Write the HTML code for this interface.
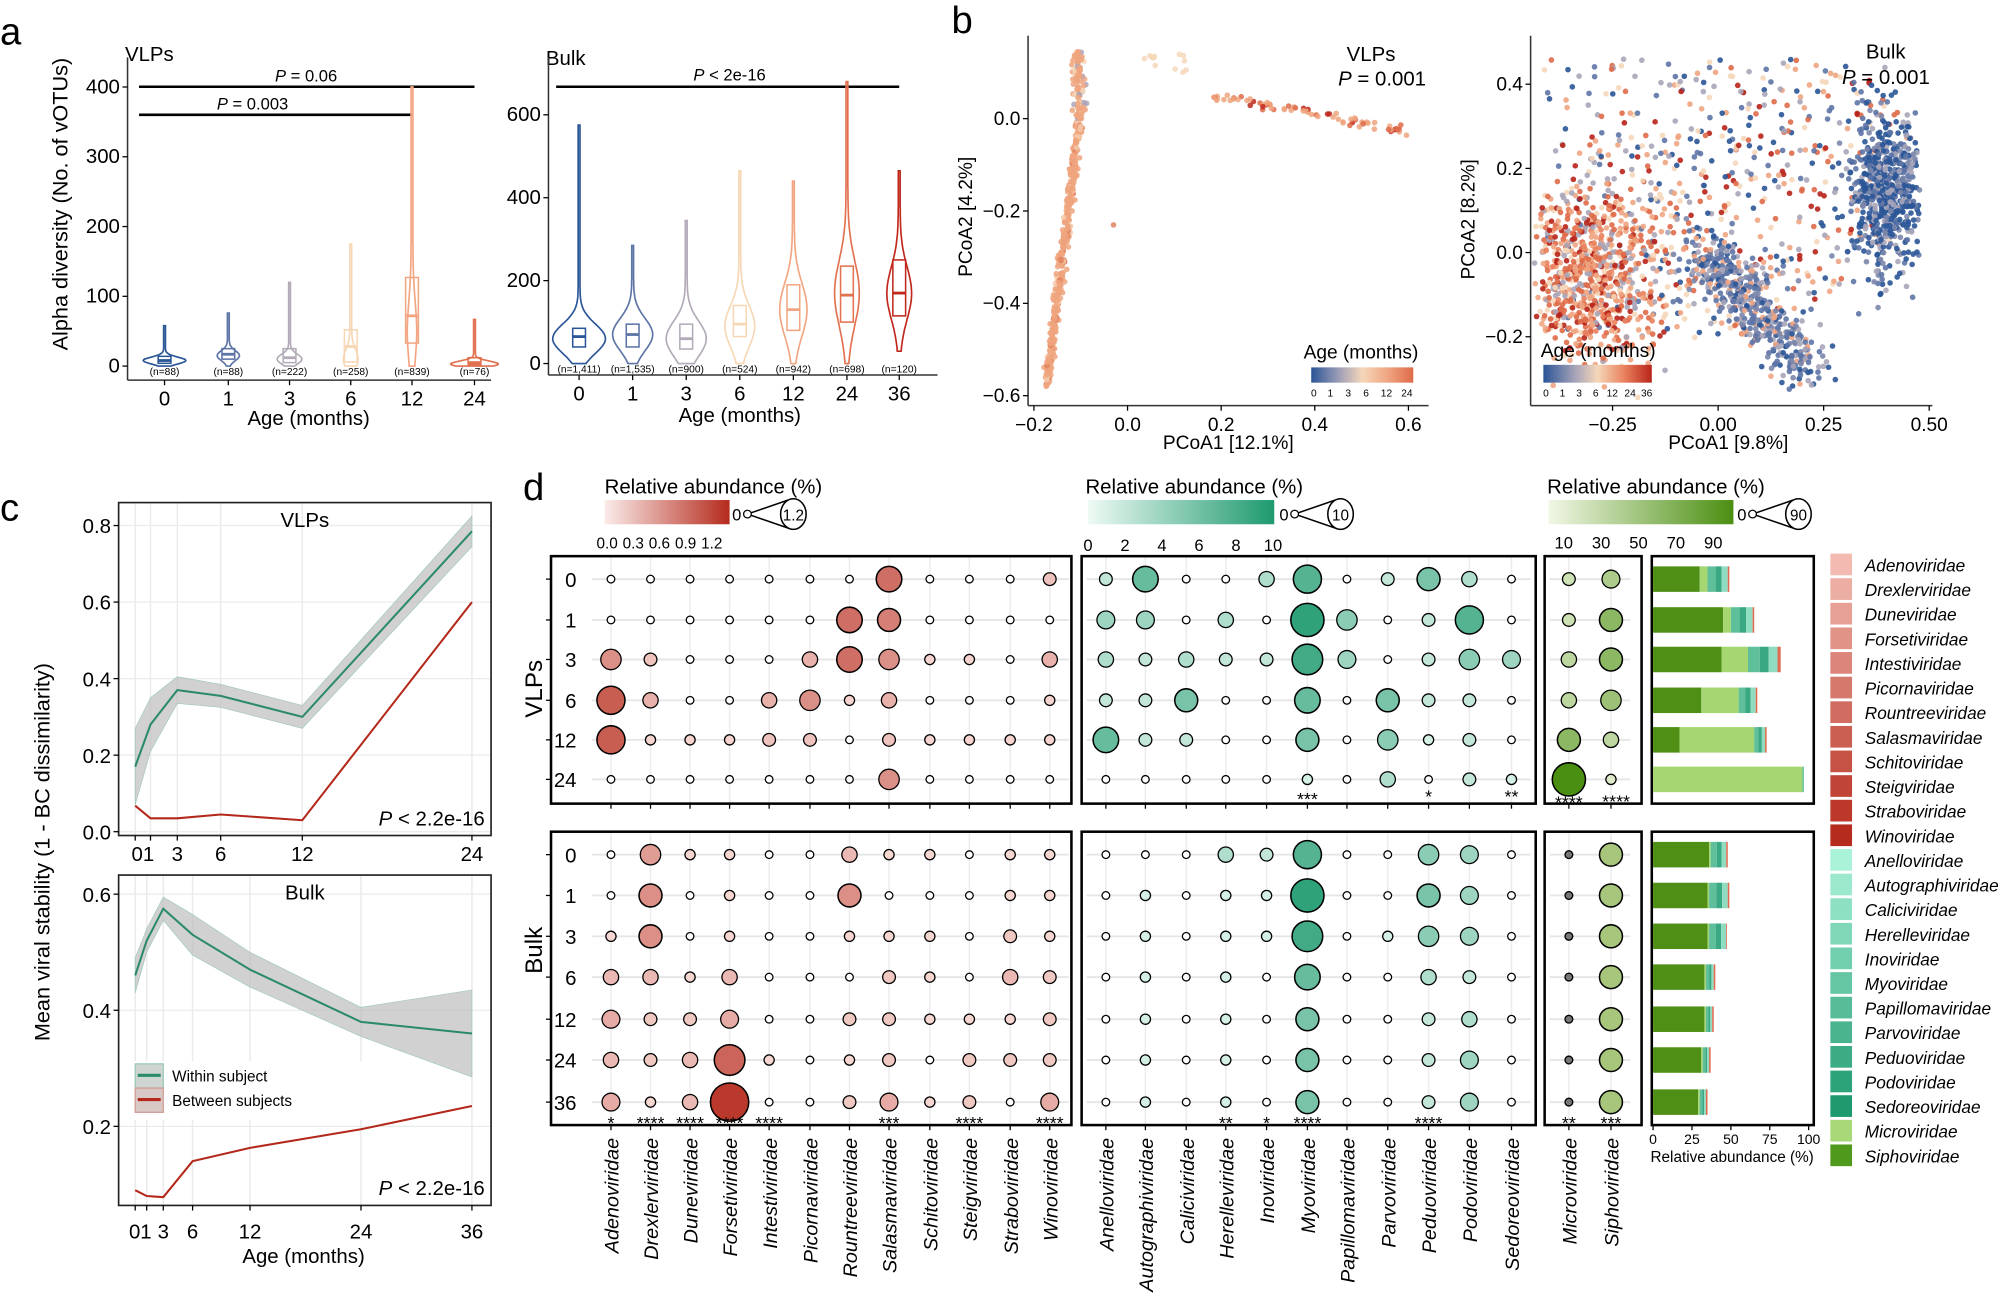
<!DOCTYPE html>
<html><head><meta charset="utf-8"><style>
html,body{margin:0;padding:0;background:#fff}
svg{display:block;font-family:"Liberation Sans",Arial,sans-serif}
</style></head><body>
<svg id="s" xmlns="http://www.w3.org/2000/svg" width="2000" height="1308" viewBox="0 0 1568 1025.4" preserveAspectRatio="none">
<rect width="1568" height="1026" fill="#fff"/>
<defs>
<linearGradient id="gr" x1="0" x2="1"><stop offset="0" stop-color="#fbecea"/><stop offset="1" stop-color="#b52b1d"/></linearGradient>
<linearGradient id="gg" x1="0" x2="1"><stop offset="0" stop-color="#eefaf4"/><stop offset="1" stop-color="#1e9a6e"/></linearGradient>
<linearGradient id="gl" x1="0" x2="1"><stop offset="0" stop-color="#f2f7e6"/><stop offset="1" stop-color="#4b8f12"/></linearGradient>
<linearGradient id="ga" x1="0" x2="1"><stop offset="0" stop-color="#2a5597"/><stop offset="0.3" stop-color="#a9a5b9"/><stop offset="0.5" stop-color="#f5d7b9"/><stop offset="0.75" stop-color="#f0a582"/><stop offset="1" stop-color="#de6a48"/></linearGradient>
<linearGradient id="gb" x1="0" x2="1"><stop offset="0" stop-color="#2a5597"/><stop offset="0.3" stop-color="#a9a5b9"/><stop offset="0.5" stop-color="#f5d7b9"/><stop offset="0.75" stop-color="#e9805c"/><stop offset="1" stop-color="#b8241a"/></linearGradient>
</defs>
</svg>
<script>
const NS='http://www.w3.org/2000/svg';const svg=document.getElementById('s');
function el(t,a,p){const e=document.createElementNS(NS,t);for(const k in a)e.setAttribute(k,a[k]);(p||svg).appendChild(e);return e;}
function tx(x,y,s,a){const e=el('text',Object.assign({x:x,y:y,'font-size':14,fill:'#000'},a||{}));e.textContent=s;return e;}
function ln(x1,y1,x2,y2,st,w){return el('line',{x1:x1,y1:y1,x2:x2,y2:y2,stroke:st||'#000','stroke-width':w||1});}
let seed=7;function rnd(){seed=(seed*16807)%2147483647;return seed/2147483647;}
function gauss(){let u=rnd()||1e-9,v=rnd();return Math.sqrt(-2*Math.log(u))*Math.cos(2*Math.PI*v);}
const pal=['#2a5597','#5d74a6','#a9a5b9','#f5d7b9','#f0a582','#de6a48','#b8241a'];

tx(0,35,'a',{'font-size':30});tx(746,26,'b',{'font-size':30});tx(0,408,'c',{'font-size':30});tx(410,392,'d',{'font-size':30});

// ===== Panel a VLPs
tx(98,48,'VLPs',{'font-size':16});
ln(100,45,100,298,'#333',1.2);ln(100,298,385,298,'#333',1.2);
let yv=v=>287-v*0.547;
[0,100,200,300,400].forEach(v=>{ln(96,yv(v),100,yv(v));tx(94,yv(v)+5,v,{'text-anchor':'end','font-size':16});});
const xa=[129,179,227,275,323,372],la=['0','1','3','6','12','24'];
xa.forEach((x,i)=>{ln(x,298,x,302);tx(x,318,la[i],{'text-anchor':'middle','font-size':16});});
tx(242,333,'Age (months)',{'text-anchor':'middle','font-size':16});
tx(0,0,'Alpha diversity (No. of vOTUs)',{'text-anchor':'middle','font-size':17,transform:'translate(53,160) rotate(-90)'});
ln(109,68,372,68,'#000',2);ln(109,90,323,90,'#000',2);
tx(240,64,'',{'text-anchor':'middle','font-size':13}).innerHTML='<tspan font-style="italic">P</tspan> = 0.06';
tx(198,86,'',{'text-anchor':'middle','font-size':13}).innerHTML='<tspan font-style="italic">P</tspan> = 0.003';
function violin(cx,ym,mn,mx,m,W,s,col,q1,md,q3){let L=[],R=[];for(let i=0;i<=80;i++){const v=mn+(mx-mn)*i/80;const w=0.7+W*Math.exp(-Math.pow((v-m)/s,2));L.push((cx-w).toFixed(1)+','+ym(v).toFixed(1));R.push((cx+w).toFixed(1)+','+ym(v).toFixed(1));}
el('path',{d:'M'+L.join('L')+'L'+R.reverse().join('L')+'Z',fill:'none',stroke:col,'stroke-width':1.3});
el('rect',{x:cx-5,y:ym(q3),width:10,height:ym(q1)-ym(q3),fill:'none',stroke:col,'stroke-width':1.2});ln(cx-5,ym(md),cx+5,ym(md),col,2.2);}
const vc=['#2a5597','#5d74a6','#b3aab8','#f7d7b5','#f2a582','#e2714f'];
const vd=[[0,58,8,16,7,4,8,14],[0,76,15,8,10,10,17,25],[0,120,10,9,10,5,12,25],[0,175,10,5,20,6,28,52],[0,400,50,3,60,33,72,127],[0,67,3,18,6,2,5,12]];
vd.forEach((d,i)=>violin(xa[i],yv,d[0],d[1],d[2],d[3],d[4],vc[i],d[5],d[6],d[7]));
['(n=88)','(n=88)','(n=222)','(n=258)','(n=839)','(n=76)'].forEach((s,i)=>tx(xa[i],294,s,{'text-anchor':'middle','font-size':8}));

// ===== Panel a Bulk
tx(428,51,'Bulk',{'font-size':16});
ln(430,45,430,294,'#333',1.2);ln(430,294,735,294,'#333',1.2);
let yb=v=>285-v*0.325;
[0,200,400,600].forEach(v=>{ln(426,yb(v),430,yb(v));tx(424,yb(v)+5,v,{'text-anchor':'end','font-size':16});});
const xb=[454,496,538,580,622,664,705],lb=['0','1','3','6','12','24','36'];
xb.forEach((x,i)=>{ln(x,294,x,298);tx(x,314,lb[i],{'text-anchor':'middle','font-size':16});});
tx(580,331,'Age (months)',{'text-anchor':'middle','font-size':16});
ln(436,68,705,68,'#000',2);tx(572,63,'',{'text-anchor':'middle','font-size':13}).innerHTML='<tspan font-style="italic">P</tspan> &lt; 2e-16';
const bc=['#2a5597','#5d74a6','#b3aab8','#f7d7b5','#f2a582','#e2714f','#c0281c'];
const bd=[[0,575,60,20,50,40,65,85],[0,285,70,15,55,40,70,95],[0,345,60,15,60,35,60,95],[0,465,90,11,70,65,95,140],[0,440,130,10,90,80,130,190],[0,680,170,9,110,100,165,235],[30,465,170,9,90,115,170,250]];
bd.forEach((d,i)=>violin(xb[i],yb,d[0],d[1],d[2],d[3],d[4],bc[i],d[5],d[6],d[7]));
['(n=1,411)','(n=1,535)','(n=900)','(n=524)','(n=942)','(n=698)','(n=120)'].forEach((s,i)=>tx(xb[i],292,s,{'text-anchor':'middle','font-size':8}));

// ===== Panel b VLPs PCoA
{const gx=v=>884+v*367,gy=v=>93-v*362;const G=el('g',{});
function pt(x,y,c){if(x<808||x>1120||y<28||y>316)return;el('circle',{cx:x.toFixed(1),cy:y.toFixed(1),r:2.2,fill:c,'fill-opacity':0.85},G);}
for(let i=0;i<420;i++){const t=rnd();const c=rnd()<0.85?'#eea47e':(rnd()<0.5?'#f5c9a8':'#e2835f');pt(gx(-0.172+t*0.07+gauss()*0.004),gy(-0.575+t*0.58+gauss()*0.008),c);}
for(let i=0;i<90;i++){const c=rnd()<0.7?'#eea47e':(rnd()<0.5?'#f5d7b9':'#a9a5b9');pt(gx(-0.105+gauss()*0.006),gy(0.0+rnd()*0.15),c);}
for(let i=0;i<70;i++){const t=rnd();const r=rnd();const c=r<0.5?'#eea47e':(r<0.8?'#de6a48':'#c0281c');pt(gx(0.18+t*0.43),gy(0.05-t*0.08+gauss()*0.005),c);}
for(let i=0;i<12;i++){pt(gx(0.03+rnd()*0.1),gy(0.1+rnd()*0.04),'#f5d7b9');}
pt(gx(-0.03),gy(-0.23),'#e2835f');
ln(806,28,806,318,'#333',1.2);ln(806,318,1120,318,'#333',1.2);
[[-0.2,'−0.2'],[0,'0.0'],[0.2,'0.2'],[0.4,'0.4'],[0.6,'0.6']].forEach(a=>{ln(gx(a[0]),318,gx(a[0]),322);tx(gx(a[0]),338,a[1],{'text-anchor':'middle','font-size':15});});
[[0,'0.0'],[-0.2,'−0.2'],[-0.4,'−0.4'],[-0.6,'−0.6']].forEach(a=>{ln(802,gy(a[0]),806,gy(a[0]));tx(800,gy(a[0])+5,a[1],{'text-anchor':'end','font-size':15});});
tx(963,352,'PCoA1 [12.1%]',{'text-anchor':'middle','font-size':15});
tx(0,0,'PCoA2 [4.2%]',{'text-anchor':'middle','font-size':15,transform:'translate(762,170) rotate(-90)'});
tx(1094,48,'VLPs',{'text-anchor':'end','font-size':16});
const p=tx(1118,67,'',{'text-anchor':'end','font-size':16});p.innerHTML='<tspan font-style="italic">P</tspan> = 0.001';
tx(1022,281,'Age (months)',{'font-size':15});
el('rect',{x:1028,y:288,width:80,height:12,fill:'url(#ga)'});
[['0',1030],['1',1043],['3',1057],['6',1071],['12',1087],['24',1103]].forEach(a=>tx(a[1],311,a[0],{'text-anchor':'middle','font-size':8}));}

// ===== Panel b Bulk PCoA
{const gx=v=>1347+v*331,gy=v=>198-v*330;const G=el('g',{});
function pt(x,y,c){if(x<1203||x>1505||y<34||y>312)return;el('circle',{cx:x.toFixed(1),cy:y.toFixed(1),r:2.2,fill:c,'fill-opacity':0.9},G);}
function pick(a){return a[Math.floor(rnd()*a.length)];}
for(let i=0;i<1500;i++){const x=-0.42+rnd()*0.87,y=-0.25+rnd()*0.72;if(y>0.46-Math.max(0,x-0.3)*0.8)continue;if(y>0.3-Math.max(0,-0.25-x)*1.0&&x<-0.25&&rnd()<0.5)continue;if(y<-0.2+Math.max(0,x-0.15)*0.9)continue;if(rnd()<0.45)continue;pt(gx(x),gy(y),pick(pal));}
for(let i=0;i<750;i++){pt(gx(-0.3+gauss()*0.085),gy(-0.06+gauss()*0.1),pick(['#f0a582','#f0a582','#de6a48','#de6a48','#b8241a','#f5d7b9','#e9805c','#a9a5b9']));}
for(let i=0;i<650;i++){pt(gx(0.4+gauss()*0.045),gy(0.14+gauss()*0.09),pick(['#2a5597','#2a5597','#5d74a6','#a9a5b9','#2a5597','#7b86aa']));}
for(let i=0;i<500;i++){const t=rnd();pt(gx(-0.06+0.28*t+gauss()*0.03),gy(0.02-0.29*t+gauss()*0.035),pick(['#2a5597','#5d74a6','#a9a5b9','#7b86aa','#5d74a6','#f0a582']));}
ln(1200,28,1200,318,'#333',1.2);ln(1200,318,1515,318,'#333',1.2);
[[-0.25,'−0.25'],[0,'0.00'],[0.25,'0.25'],[0.5,'0.50']].forEach(a=>{ln(gx(a[0]),318,gx(a[0]),322);tx(gx(a[0]),338,a[1],{'text-anchor':'middle','font-size':15});});
[[0.4,'0.4'],[0.2,'0.2'],[0,'0.0'],[-0.2,'−0.2']].forEach(a=>{ln(1196,gy(a[0]),1200,gy(a[0]));tx(1194,gy(a[0])+5,a[1],{'text-anchor':'end','font-size':15});});
tx(1355,352,'PCoA1 [9.8%]',{'text-anchor':'middle','font-size':15});
tx(0,0,'PCoA2 [8.2%]',{'text-anchor':'middle','font-size':15,transform:'translate(1156,172) rotate(-90)'});
tx(1494,46,'Bulk',{'text-anchor':'end','font-size':16});
const p=tx(1513,66,'',{'text-anchor':'end','font-size':16});p.innerHTML='<tspan font-style="italic">P</tspan> = 0.001';
tx(1208,280,'Age (months)',{'font-size':15});
el('rect',{x:1210,y:286,width:85,height:14,fill:'url(#gb)'});
[['0',1212],['1',1225],['3',1238],['6',1251],['12',1264],['24',1278],['36',1291]].forEach(a=>tx(a[1],311,a[0],{'text-anchor':'middle','font-size':8}));}

// ===== Panel c
function cpanel(x0,y0,x1,y1,xs,labs,ymap,yt,within,wband,between,title){
 el('rect',{x:x0,y:y0,width:x1-x0,height:y1-y0,fill:'#fff'});
 yt.forEach(v=>ln(x0,ymap(v),x1,ymap(v),'#ebebeb',1));xs.forEach(x=>ln(x,y0,x,y1,'#ebebeb',1.2));
 const up=within.map((v,i)=>xs[i]+','+ymap(v+wband[i])),dn=within.map((v,i)=>xs[i]+','+ymap(v-wband[i])).reverse();
 el('polygon',{points:up.concat(dn).join(' '),fill:'#bdbdbd','fill-opacity':0.7,stroke:'#9cc9b6','stroke-width':0.5});
 el('polyline',{points:within.map((v,i)=>xs[i]+','+ymap(v)).join(' '),fill:'none',stroke:'#2a8a6a','stroke-width':1.6});
 el('polyline',{points:between.map((v,i)=>xs[i]+','+ymap(v)).join(' '),fill:'none',stroke:'#b3281a','stroke-width':1.6});
 el('rect',{x:x0,y:y0,width:x1-x0,height:y1-y0,fill:'none',stroke:'#222','stroke-width':1.3});
 yt.forEach(v=>{ln(x0-4,ymap(v),x0,ymap(v));tx(x0-6,ymap(v)+6,v.toFixed(1),{'text-anchor':'end','font-size':16});});
 xs.forEach((x,i)=>{ln(x,y1,x,y1+4);});
 tx((x0+x1)/2,y0+19,title,{'text-anchor':'middle','font-size':16});
 const p=tx(x1-5,y1-8,'',{'text-anchor':'end','font-size':16});p.innerHTML='<tspan font-style="italic">P</tspan> &lt; 2.2e-16';}
const xc1=[106,118,139,173,237,370];
cpanel(93,394,385,655,xc1,[],v=>652-v*300,[0,0.2,0.4,0.6,0.8],[0.17,0.28,0.37,0.355,0.30,0.785],[0.1,0.07,0.035,0.03,0.03,0.04],[0.068,0.035,0.035,0.045,0.03,0.6],'VLPs');
tx(112,675,'01',{'text-anchor':'middle','font-size':16});[[139,'3'],[173,'6'],[237,'12'],[370,'24']].forEach(a=>tx(a[0],675,a[1],{'text-anchor':'middle','font-size':16}));
const xc2=[106,115,128,151,196,283,370];
cpanel(93,686,385,945,xc2,[],v=>701-(v-0.6)*455,[0.2,0.4,0.6],[0.46,0.52,0.575,0.53,0.47,0.38,0.36],[0.03,0.02,0.02,0.035,0.03,0.025,0.075],[0.09,0.08,0.078,0.14,0.163,0.195,0.235],'Bulk');
tx(110,971,'01',{'text-anchor':'middle','font-size':16});[[128,'3'],[151,'6'],[196,'12'],[283,'24'],[370,'36']].forEach(a=>tx(a[0],971,a[1],{'text-anchor':'middle','font-size':16}));
tx(238,990,'Age (months)',{'text-anchor':'middle','font-size':16});
el('rect',{x:103,y:832,width:205,height:46,fill:'#fff'});
el('rect',{x:106,y:834,width:22,height:19,fill:'#cfd6d2',stroke:'#9cc9b6'});ln(108,843,126,843,'#2a8a6a',2.4);
el('rect',{x:106,y:853,width:22,height:19,fill:'#d8c8c6',stroke:'#d09b95'});ln(108,862,126,862,'#b3281a',2.4);
tx(135,848,'Within subject',{'font-size':12});tx(135,867,'Between subjects',{'font-size':12});
tx(0,0,'Mean viral stability (1 - BC dissimilarity)',{'text-anchor':'middle','font-size':17,transform:'translate(39,668) rotate(-90)'});

// ===== Panel d
const red=['Adenoviridae','Drexlerviridae','Duneviridae','Forsetiviridae','Intestiviridae','Picornaviridae','Rountreeviridae','Salasmaviridae','Schitoviridae','Steigviridae','Straboviridae','Winoviridae'];
const grn=['Anelloviridae','Autographiviridae','Caliciviridae','Herelleviridae','Inoviridae','Myoviridae','Papillomaviridae','Parvoviridae','Peduoviridae','Podoviridae','Sedoreoviridae'];
const lgn=['Microviridae','Siphoviridae'];
const xr=[479,510,541,572,603,635,666,697,729,760,792,823],xg=[867,898,930,961,993,1025,1056,1088,1120,1152,1185],xl=[1230,1263];
const rv=[454,486,517,549,580,611],rbk=[670,702,734,766,799,831,864];
function sizeleg(x,y,lab){tx(x,y+5,'0',{'font-size':13});el('path',{d:`M${x+12},${y} L${x+44},${y-11} M${x+12},${y} L${x+44},${y+11}`,stroke:'#000',fill:'none','stroke-width':1.2});el('circle',{cx:x+12,cy:y,r:3,fill:'#fff',stroke:'#000'});el('ellipse',{cx:x+48,cy:y,rx:10,ry:12,fill:'#fff',stroke:'#000','stroke-width':1.2});tx(x+48,y+5,lab,{'text-anchor':'middle','font-size':12});}
tx(474,387,'Relative abundance (%)',{'font-size':16});el('rect',{x:474,y:392,width:98,height:19,fill:'url(#gr)'});sizeleg(574,403,'1.2');
['0.0','0.3','0.6','0.9','1.2'].forEach((s,i)=>tx(476+i*20.5,430,s,{'text-anchor':'middle','font-size':12}));
tx(851,387,'Relative abundance (%)',{'font-size':16});el('rect',{x:853,y:392,width:146,height:19,fill:'url(#gg)'});sizeleg(1003,403,'10');
['0','2','4','6','8','10'].forEach((s,i)=>tx(853+i*29,432,s,{'text-anchor':'middle','font-size':13}));
tx(1213,387,'Relative abundance (%)',{'font-size':16});el('rect',{x:1214,y:392,width:145,height:19,fill:'url(#gl)'});sizeleg(1362,403,'90');
['10','30','50','70','90'].forEach((s,i)=>tx(1226+i*29.3,430,s,{'text-anchor':'middle','font-size':13}));
function mix(a,b,t){const pa=[1,3,5].map(i=>parseInt(a.substr(i,2),16)),pb=[1,3,5].map(i=>parseInt(b.substr(i,2),16));return 'rgb('+pa.map((v,i)=>Math.round(v+(pb[i]-v)*t)).join(',')+')';}
function dots(xs,ys,M,c0,c1,mx){ys.forEach(y=>ln(xs[0]-15,y,xs[xs.length-1]+15,y,'#e6e6e6',1.5));
 ys.forEach((y,r)=>xs.forEach((x,c)=>{const v=M[r][c]||3;const t=Math.min(1,(v-3)/mx);el('circle',{cx:x,cy:y,r:v,fill:v<=3.5?'#fff':mix(c0,c1,t),stroke:'#000','stroke-width':v>8?1.2:1});}));}
function vgrid(xs,y0,y1){xs.forEach(x=>ln(x,y0,x,y1,'#ececec',1.2));}
function panel(x0,y0,x1,y1){el('rect',{x:x0,y:y0,width:x1-x0,height:y1-y0,fill:'none',stroke:'#000','stroke-width':2});}
vgrid(xr,436,630);vgrid(xg,436,630);vgrid(xl,436,630);vgrid(xr,653,882);vgrid(xg,653,882);vgrid(xl,653,882);
const RV=[[0,0,0,0,0,0,0,10,0,0,0,5],[0,0,0,0,0,0,10,9,0,0,0,0],[8,5,0,0,0,6,10,8,4,4,0,6],[11,6,0,0,6,8,4,6,0,0,0,4],[11,4,4,4,5,5,0,5,4,4,4,4],[0,0,0,0,0,0,0,8,0,0,0,0]];
dots(xr,rv,RV,'#fbe4e0','#b52b1d',11);
const RB=[[0,8,4,4,0,0,6,4,4,0,4,4],[0,9,0,4,0,0,9,0,0,0,4,4],[4,9,0,4,0,0,4,4,4,0,5,4],[6,6,4,6,0,0,0,5,4,0,6,5],[7,5,5,7,0,0,5,5,4,4,4,5],[6,5,6,12,4,0,4,5,0,5,5,5],[7,4,6,15,0,0,5,7,4,5,0,7]];
dots(xr,rbk,RB,'#fbe4e0','#b52b1d',13);
const GV=[[5,10,3,3,6,11,0,5,9,6,0],[7,7,3,6,0,13,8,0,5,11,0],[6,5,6,5,5,12,7,0,5,8,7],[5,5,9,0,0,10,0,9,5,5,0],[10,5,5,0,0,9,0,8,4,5,0],[0,0,0,0,0,4,0,6,0,5,4]];
dots(xg,rv,GV,'#e6f7ef','#1e9a6e',11);
const GB=[[0,0,0,6,5,11,0,0,8,7,0],[0,4,0,4,4,13,0,0,9,7,0],[0,4,0,4,4,12,0,4,8,7,0],[0,4,0,4,0,10,0,0,6,5,0],[0,4,0,4,0,9,0,0,5,6,0],[0,4,0,4,0,9,0,0,5,7,0],[0,4,0,4,0,9,0,0,5,7,0]];
dots(xg,rbk,GB,'#e6f7ef','#1e9a6e',11);
const LV=[[5,7],[5,9],[6,9],[6,8],[9,6],[13,4]];dots(xl,rv,LV,'#eef5dc','#4b8f12',10);
const LB=[[0,9],[0,9],[0,9],[0,9],[0,9],[0,9],[0,9]];dots(xl,rbk,LB,'#eef5dc','#8fb65a',8);
rbk.forEach(y=>el('circle',{cx:1230,cy:y,r:3,fill:'#777',stroke:'#000'}));
panel(432,436,840,630);panel(848,436,1204,630);panel(1211,436,1287,630);panel(1295,436,1422,630);
panel(432,652,840,882);panel(848,652,1204,882);panel(1211,652,1287,882);panel(1295,652,1422,882);
['0','1','3','6','12','24'].forEach((s,i)=>{tx(452,rv[i]+6,s,{'text-anchor':'end','font-size':16});ln(428,rv[i],432,rv[i]);});
['0','1','3','6','12','24','36'].forEach((s,i)=>{tx(452,rbk[i]+6,s,{'text-anchor':'end','font-size':16});ln(428,rbk[i],432,rbk[i]);});
tx(0,0,'VLPs',{'text-anchor':'middle','font-size':19,transform:'translate(425,540) rotate(-90)'});
tx(0,0,'Bulk',{'text-anchor':'middle','font-size':19,transform:'translate(425,745) rotate(-90)'});
function star(x,y,s){tx(x,y,s,{'text-anchor':'middle','font-size':14});}
star(1025,631,'***');star(1120,629,'*');star(1185,629,'**');star(1230,634,'****');star(1267,633,'****');
[[479,'*'],[510,'****'],[541,'****'],[572,'****'],[603,'****'],[697,'***'],[760,'****'],[823,'****'],[961,'**'],[993,'*'],[1025,'****'],[1120,'****'],[1230,'**'],[1263,'***']].forEach(a=>star(a[0],885,a[1]));
xr.concat(xg,xl).forEach(x=>{ln(x,882,x,886);ln(x,630,x,634);});
red.concat(grn,lgn).forEach((n,i)=>{const x=xr.concat(xg,xl)[i]+6;tx(x,892,n,{'text-anchor':'end','font-size':15.5,'font-style':'italic',transform:`rotate(-90 ${x} 892)`});});
const bx=v=>1296+v*1.22;
function bar(y,seg){let c=0;seg.forEach(s=>{el('rect',{x:bx(c),y:y-10,width:s[0]*1.22,height:20,fill:s[1]});c+=s[0];});}
const BV=[[30,5,13,1],[45,5,14,1],[44,17,19,2],[31,24,11,1],[17,48,7,1],[0,96,1,0]];
BV.forEach((b,i)=>bar(rv[i],[[b[0],'#4f8f16'],[b[1],'#a6d672'],[b[2]*0.4,'#5fbf9a'],[b[2]*0.3,'#3aa882'],[b[2]*0.3,'#8fdcc0'],[b[3],'#e0694e']]));
const BB=[[36,1,10,1],[35,1,12,1],[35,1,11,0.5],[33,1,5,1],[33,1,4,1],[31,1,4,1],[29,1,4,1]];
BB.forEach((b,i)=>bar(rbk[i],[[b[0],'#4f8f16'],[b[1],'#a6d672'],[b[2]*0.4,'#5fbf9a'],[b[2]*0.3,'#3aa882'],[b[2]*0.3,'#8fdcc0'],[b[3],'#e0694e']]));
[0,25,50,75,100].forEach(v=>{ln(bx(v),882,bx(v),886);tx(bx(v),897,v,{'text-anchor':'middle','font-size':11});});
tx(1358,911,'Relative abundance (%)',{'text-anchor':'middle','font-size':12});
const all=red.concat(grn,lgn);
all.forEach((n,i)=>{let c;if(i<12)c=mix('#f2bab0','#b52b1d',i/11);else if(i<23)c=mix('#aaf2d8','#1f9a6e',(i-12)/10);else c=i==23?'#a8d878':'#4f9a1c';
 const y=443+i*19.3;el('rect',{x:1435,y:y-9,width:17,height:17,fill:c});tx(1462,y+5,n,{'font-size':13.5,'font-style':'italic'});});
</script>
</body></html>
